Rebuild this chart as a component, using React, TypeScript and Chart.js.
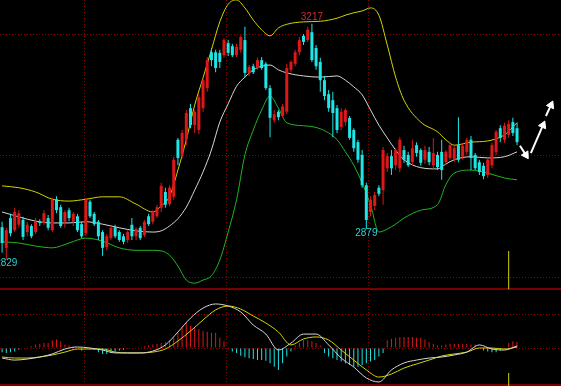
import React, { useEffect, useRef } from 'react';
import { Chart, registerables } from 'chart.js';

Chart.register(...registerables);

// ---------- candles (index 0..123) ----------
const candleOpen = [
  2882, 2848, 2897, 2877, 2886, 2894, 2874, 2884, 2874, 2891,
  2889, 2897, 2877, 2928, 2915, 2891, 2910, 2891, 2900, 2887,
  2872, 2924, 2904, 2891, 2874, 2849, 2864, 2882, 2874, 2867,
  2861, 2886, 2867, 2881, 2869, 2900, 2891, 2900, 2914, 2940,
  2920, 2932, 3026, 3001, 3026, 3078, 3050, 3042, 3078, 3111,
  3170, 3170, 3169, 3165, 3185, 3180, 3165, 3174, 3190, 3136,
  3147, 3144, 3157, 3151, 3111, 3058, 3072, 3065, 3072, 3141,
  3151, 3170, 3197, 3190, 3203, 3177, 3154, 3124, 3101, 3091,
  3078, 3047, 3055, 3062, 3042, 3022, 3001, 2951, 2907, 2917,
  2947, 2943, 2979, 2999, 2984, 2979, 3009, 3001, 2989, 3017,
  3009, 2993, 3006, 2984, 3001, 3006, 2989, 2996, 2993, 3017,
  2998, 3006, 3026, 3001, 2989, 2983, 2968, 2984, 3006, 3045,
  3026, 3034, 3055, 3045,
];
const candleHigh = [
  2891, 2881, 2904, 2914, 2910, 2899, 2891, 2887, 2897, 2895,
  2910, 2902, 2930, 2933, 2919, 2910, 2914, 2907, 2904, 2891,
  2930, 2927, 2907, 2894, 2877, 2871, 2884, 2886, 2877, 2871,
  2877, 2897, 2882, 2884, 2894, 2904, 2910, 2919, 2955, 2947,
  2951, 2998, 3029, 3042, 3075, 3085, 3075, 3101, 3128, 3162,
  3177, 3174, 3174, 3193, 3190, 3184, 3184, 3197, 3212, 3149,
  3151, 3161, 3162, 3154, 3116, 3075, 3075, 3085, 3151, 3157,
  3174, 3195, 3200, 3212, 3217, 3182, 3161, 3131, 3108, 3105,
  3083, 3078, 3078, 3065, 3045, 3026, 3009, 2955, 2933, 2940,
  2951, 3014, 3004, 3009, 3012, 3030, 3016, 3006, 3026, 3022,
  3012, 3016, 3014, 3029, 3006, 3026, 3009, 3021, 3017, 3063,
  3021, 3029, 3032, 3004, 2993, 2988, 2996, 3021, 3042, 3050,
  3054, 3058, 3062, 3054,
];
const candleLow = [
  2840, 2829, 2867, 2874, 2881, 2861, 2867, 2864, 2871, 2884,
  2886, 2877, 2874, 2905, 2881, 2881, 2892, 2884, 2874, 2864,
  2867, 2897, 2884, 2861, 2835, 2844, 2861, 2864, 2858, 2854,
  2856, 2861, 2861, 2861, 2866, 2884, 2887, 2897, 2907, 2914,
  2917, 2927, 2984, 2996, 3017, 3045, 3037, 3035, 3072, 3105,
  3147, 3137, 3144, 3161, 3164, 3162, 3162, 3169, 3129, 3131,
  3134, 3141, 3141, 3108, 3030, 3054, 3058, 3062, 3068, 3137,
  3147, 3165, 3182, 3187, 3154, 3141, 3105, 3091, 3072, 3030,
  3037, 3042, 3049, 3026, 3006, 2988, 2947, 2879, 2900, 2910,
  2933, 2919, 2973, 2968, 2976, 2973, 2988, 2981, 2984, 2998,
  2983, 2986, 2984, 2979, 2976, 2960, 2984, 2993, 2989, 2989,
  2993, 3001, 2976, 2976, 2968, 2961, 2963, 2979, 3001, 3022,
  3021, 3029, 3032, 3017,
];
const candleClose = [
  2856, 2877, 2872, 2907, 2905, 2866, 2886, 2867, 2891, 2889,
  2905, 2881, 2927, 2910, 2884, 2907, 2897, 2904, 2877, 2867,
  2927, 2900, 2887, 2867, 2848, 2867, 2881, 2867, 2861, 2858,
  2874, 2867, 2879, 2864, 2891, 2887, 2907, 2915, 2950, 2919,
  2947, 2993, 2996, 3037, 3070, 3050, 3072, 3096, 3124, 3157,
  3157, 3144, 3154, 3190, 3169, 3165, 3179, 3195, 3136, 3146,
  3137, 3157, 3144, 3111, 3062, 3068, 3063, 3081, 3144, 3154,
  3170, 3190, 3187, 3207, 3157, 3147, 3124, 3098, 3078, 3070,
  3042, 3072, 3075, 3029, 3012, 2993, 2951, 2894, 2927, 2935,
  2937, 3009, 2999, 2979, 3009, 3026, 2993, 2984, 3012, 3004,
  2988, 3009, 2989, 3004, 2981, 2976, 3006, 3017, 3012, 2993,
  3016, 3026, 2996, 2979, 2973, 2966, 2993, 3017, 3039, 3029,
  3049, 3052, 3037, 3022,
];

// ---------- Bollinger bands (read at these candle indices) ----------
const bandIdx = [0, 4, 8, 12, 16, 20, 24, 28, 32, 36, 38, 40, 42, 44, 46, 48, 50, 52, 54, 56, 58, 60, 62, 64, 66, 68, 72, 76, 80, 82, 84, 86, 88, 90, 92, 94, 96, 100, 104, 106, 108, 112, 116, 120, 123];
const bandUpper = [2950, 2947, 2940, 2928, 2925, 2928, 2932, 2932, 2920, 2907, 2917, 2933, 2976, 3026, 3083, 3128, 3174, 3220, 3249, 3256, 3243, 3223, 3207, 3197, 3210, 3216, 3220, 3221, 3226, 3231, 3235, 3238, 3243, 3231, 3182, 3129, 3091, 3055, 3039, 3026, 3017, 3022, 3024, 3034, 3054];
const bandMid = [2907, 2899, 2892, 2889, 2889, 2891, 2887, 2881, 2876, 2874, 2876, 2884, 2896, 2915, 2943, 2973, 3009, 3055, 3085, 3114, 3129, 3141, 3147, 3149, 3141, 3136, 3131, 3129, 3131, 3124, 3113, 3100, 3075, 3050, 3029, 3009, 2993, 2980, 2978, 2986, 2993, 2998, 2996, 2998, 3006];
const bandLower = [2858, 2856, 2851, 2848, 2856, 2864, 2859, 2848, 2844, 2844, 2843, 2836, 2818, 2795, 2790, 2795, 2802, 2828, 2874, 2927, 3001, 3042, 3075, 3098, 3078, 3054, 3049, 3044, 3026, 3006, 2984, 2955, 2919, 2874, 2879, 2887, 2897, 2910, 2919, 2952, 2971, 2976, 2971, 2963, 2960];

// ---------- MACD ----------
const macdIdx = [0, 3, 6, 9, 12, 15, 18, 21, 24, 27, 30, 33, 36, 39, 42, 45, 48, 51, 54, 57, 60, 63, 66, 69, 72, 75, 78, 81, 84, 87, 90, 93, 96, 99, 102, 105, 108, 111, 114, 117, 120, 123];
const macdDif = [-5.9, -7.1, -6.5, -5.3, -3.5, -0.6, 0.6, 0, -1.2, -2.9, -2.9, -2.9, -1.8, 1.8, 9.4, 17.6, 23.5, 25.9, 24.7, 21.2, 13.5, 8.2, -1.2, 2.9, 8.2, 8.2, 1.8, -5.9, -11.2, -17.6, -20.0, -12.9, -8.8, -7.1, -5.9, -5.3, -4.1, -2.4, 1.8, -0.6, -1.2, 1.2];
const macdDea = [-5.3, -5.9, -5.9, -5.3, -4.1, -2.4, -0.6, -0.6, -0.6, -2.4, -2.9, -2.9, -2.4, -0.6, 4.1, 10.0, 16.5, 22.4, 24.7, 22.9, 18.8, 14.7, 9.4, 1.8, 5.3, 6.5, 4.7, -1.2, -7.1, -12.9, -17.1, -15.3, -11.8, -9.4, -7.1, -4.7, -3.5, -2.4, 0, 0, -0.6, 0.6];
const macdHist = [
  -2.5, -3, -2.5, -2, -1, 0, 0.5, 1, 2, 2.5,
  3, 3, 4.5, 5, 4, 2, 1.5, 1, 0.5, -1.5,
  -0.5, -0.5, -1, -2.5, -3.5, -3.5, -3, -2, -1.5, -1,
  -0.5, -0.3, 0, 0.5, 1, 1.5, 2, 2.5, 3, 3.5,
  4.5, 6, 9, 12, 15, 13, 12, 11, 10, 9.5,
  9, 9, 6, 4, 0.5, -2, -3, -4.5, -5.5, -6,
  -6.5, -7, -7, -7.5, -9, -11, -13, -9, -5, -2,
  1.5, 3, 4.5, 4.5, 4, 3, 1.5, -3, -5, -6,
  -7, -8, -9, -10, -11, -11, -10, -9, -8, -7,
  -5, -3, 4.5, 5.5, 6, 6.5, 6.5, 6.5, 6.5, 6,
  6, 5, 3.5, 2.5, 1.5, 1.5, 2, 2.5, 2.5, 2.5,
  2.5, 2.5, 2, 2, 0, -1.5, -2, -2.5, -2.5, -1.5,
  -0.5, 3, 4, 3.5,
];

// ---------- axes / grid values ----------
const priceRange = [2620.6, 3256];
const macdRange = [-22.35, 204.7];
const xRange = [-0.5, 133.5];
const priceGrid = [2800, 3000, 3200];
const macdGrid = [0, 20];
const panelEdges = [2780, 2622.3];
const xGrid = [19.8, 53.7, 87.6];

// ---------- marks ----------
const extremeIdx = [74, 87, 1];
const extremeValue = [3217, 2879, 2829];
const extremeKind = ['high', 'low', 'low'];

const signalIdx = [121];
const signalPrice = [[2780, 2843]];
const signalMacd = [[-22.35, -14.7]];

const arrowFromIdx = [123.7, 126.3, 129.9];
const arrowFromPrice = [3016, 3004, 3065];
const arrowToIdx = [125.1, 129.2, 131.1];
const arrowToPrice = [3001, 3050, 3083];

const RED = '#dc1818';
const CYAN = '#1ee6e6';
const YELLOW = '#d4d400';
const GREY = '#d6d6d6';
const GREEN = '#22b422';
const GRID = '#900000';
const FRAME = '#7a0000';

const extremeLabels = {
  id: 'extremeLabels',
  afterDatasetsDraw(chart: any) {
    const { ctx } = chart;
    const xs = chart.scales.x;
    const ys = chart.scales.y;
    ctx.save();
    ctx.font = '10px "Liberation Sans", Arial, sans-serif';
    ctx.textAlign = 'center';
    extremeIdx.forEach((i, k) => {
      const px = xs.getPixelForValue(i);
      const py = ys.getPixelForValue(extremeValue[k]);
      const high = extremeKind[k] === 'high';
      ctx.fillStyle = high ? '#d22a2a' : '#2ad2d2';
      ctx.textBaseline = high ? 'bottom' : 'top';
      ctx.fillText(String(extremeValue[k]), px, py - 1);
    });
    ctx.restore();
  },
};

function gridAxis(min: number, max: number, ticks: number[], color: string, width: number, dash: number[], horizontal: boolean) {
  return {
    type: 'linear',
    display: true,
    min,
    max,
    offset: false,
    ticks: { display: false },
    grid: { color, lineWidth: width, drawTicks: false, offset: false },
    border: { display: false, dash },
    afterBuildTicks: (s: any) => {
      s.ticks = ticks.map((v) => ({ value: v }));
    },
    afterFit: (s: any) => {
      if (horizontal) s.height = 0;
      else s.width = 0;
    },
  };
}

export default function App() {
  const ref = useRef<HTMLCanvasElement>(null);

  useEffect(() => {
    document.body.style.margin = '0';
    document.body.style.background = '#000';
    const canvas = ref.current;
    if (!canvas) return;

    const idx = candleOpen.map((_, i) => i);
    const candleColor = idx.map((i) => (candleClose[i] >= candleOpen[i] ? RED : CYAN));
    const xy = (xs: number[], ys: number[]) => xs.map((x, k) => ({ x, y: ys[k] }));
    const lineDs = (data: any[], color: string, axis: string) => ({
      type: 'line',
      data,
      borderColor: color,
      borderWidth: 1,
      pointRadius: 0,
      cubicInterpolationMode: 'monotone',
      fill: false,
      yAxisID: axis,
    });

    const arrowDs = arrowFromIdx.map((_, a) => ({
      type: 'line',
      data: [
        { x: arrowFromIdx[a], y: arrowFromPrice[a] },
        { x: arrowToIdx[a], y: arrowToPrice[a] },
      ],
      borderColor: '#ffffff',
      borderWidth: 2,
      pointRadius: [0, 4.5],
      pointStyle: 'triangle',
      pointBackgroundColor: '#ffffff',
      pointBorderColor: '#ffffff',
      pointBorderWidth: 1,
      pointRotation: (c: any) => {
        const xs = c.chart.scales.x;
        const ys = c.chart.scales.y;
        const dx = xs.getPixelForValue(arrowToIdx[a]) - xs.getPixelForValue(arrowFromIdx[a]);
        const dy = ys.getPixelForValue(arrowToPrice[a]) - ys.getPixelForValue(arrowFromPrice[a]);
        return (Math.atan2(dx, -dy) * 180) / Math.PI;
      },
      yAxisID: 'y',
    }));

    const chart = new Chart(canvas, {
      type: 'bar',
      data: {
        datasets: [
          ...arrowDs,
          {
            type: 'bar',
            data: idx.map((i) => ({ x: i, y: [candleOpen[i], candleClose[i]] })),
            backgroundColor: candleColor,
            maxBarThickness: 3,
            grouped: false,
            yAxisID: 'y',
          },
          {
            type: 'bar',
            data: idx.map((i) => ({ x: i, y: [candleLow[i], candleHigh[i]] })),
            backgroundColor: candleColor,
            maxBarThickness: 1,
            grouped: false,
            yAxisID: 'y',
          },
          lineDs(xy(bandIdx, bandUpper), YELLOW, 'y'),
          lineDs(xy(bandIdx, bandMid), GREY, 'y'),
          lineDs(xy(bandIdx, bandLower), GREEN, 'y'),
          lineDs(xy(macdIdx, macdDif), GREY, 'ym'),
          lineDs(xy(macdIdx, macdDea), YELLOW, 'ym'),
          {
            type: 'bar',
            data: idx.map((i) => ({ x: i, y: macdHist[i] })),
            backgroundColor: idx.map((i) => (macdHist[i] >= 0 ? RED : CYAN)),
            maxBarThickness: 1,
            grouped: false,
            yAxisID: 'ym',
          },
          {
            type: 'bar',
            data: signalIdx.map((x, k) => ({ x, y: signalPrice[k] })),
            backgroundColor: YELLOW,
            maxBarThickness: 1,
            grouped: false,
            yAxisID: 'y',
          },
          {
            type: 'bar',
            data: signalIdx.map((x, k) => ({ x, y: signalMacd[k] })),
            backgroundColor: YELLOW,
            maxBarThickness: 1,
            grouped: false,
            yAxisID: 'ym',
          },
        ] as any,
      },
      options: {
        responsive: false,
        animation: false,
        devicePixelRatio: 1,
        events: [],
        layout: { padding: 0, autoPadding: false },
        plugins: { legend: { display: false }, tooltip: { enabled: false } },
        scales: {
          x: { ...gridAxis(xRange[0], xRange[1], xGrid, GRID, 1, [1, 2], true), position: 'bottom' },
          y: { ...gridAxis(priceRange[0], priceRange[1], priceGrid, GRID, 1, [1, 2], false), position: 'left' },
          ym: { ...gridAxis(macdRange[0], macdRange[1], macdGrid, GRID, 1, [1, 2], false), position: 'left' },
          ysep: { ...gridAxis(priceRange[0], priceRange[1], panelEdges, FRAME, 2, [], false), position: 'left' },
        } as any,
      },
      plugins: [extremeLabels],
    });

    return () => chart.destroy();
  }, []);

  return <canvas ref={ref} width={561} height={386} style={{ display: 'block', background: '#000' }} />;
}
